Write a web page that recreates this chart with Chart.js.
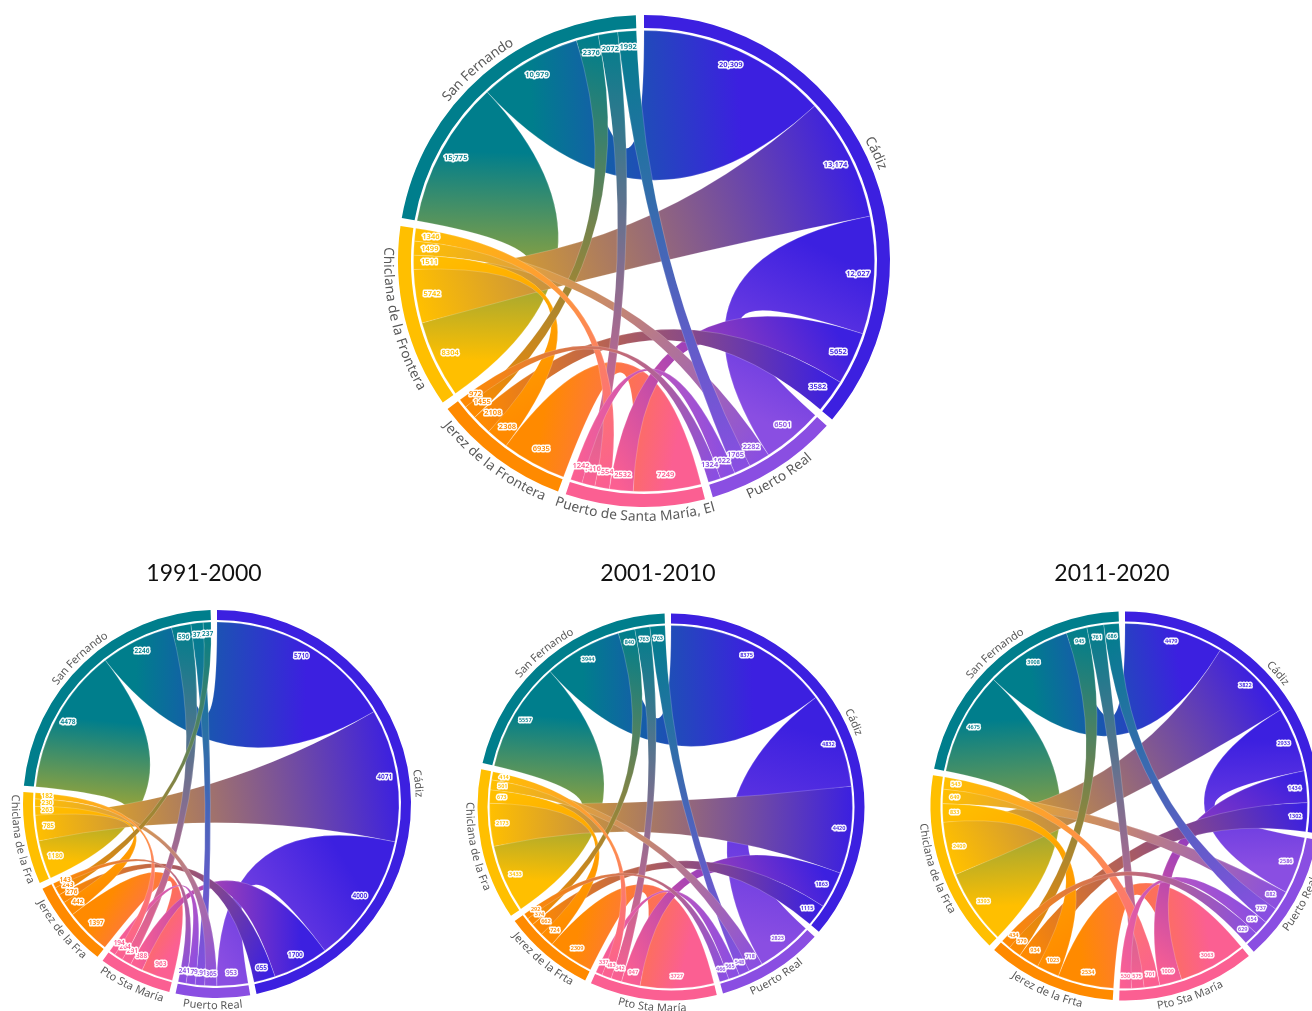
<!DOCTYPE html>
<html>
<head>
<meta charset="utf-8">
<title>Flujos entre municipios</title>
<script src="https://cdn.jsdelivr.net/npm/chart.js@4"></script>
<style>
  html, body { margin: 0; background: #fff; width: 1312px; height: 1011px; overflow: hidden; }
  canvas { position: absolute; }
  #chartMain { left: 344px; top: -39px; }
  #chart1991 { left: -7px; top: 580px; }
  #chart2001 { left: 447px; top: 583px; }
  #chart2011 { left: 901px; top: 582px; }
  .title { position: absolute; top: 558px; width: 200px; text-align: center; font: 23px Lato, sans-serif; color: #111; }
</style>
</head>
<body>
<canvas id="chartMain" width="600" height="600"></canvas>
<canvas id="chart1991" width="448" height="448"></canvas>
<canvas id="chart2001" width="448" height="448"></canvas>
<canvas id="chart2011" width="448" height="448"></canvas>
<div class="title" style="left:104px">1991-2000</div>
<div class="title" style="left:558px">2001-2010</div>
<div class="title" style="left:1012px">2011-2020</div>
<script>
// --- DATA ---
// Group order (clockwise from the top): 0 Cádiz, 1 Puerto Real, 2 Pto Sta María, 3 Jerez, 4 Chiclana, 5 San Fernando
const groupColors = ['#3c20e0', '#8a4ee2', '#fb5f92', '#ff8a00', '#ffbf00', '#007e8c'];

const namesMain = ['Cádiz', 'Puerto Real', 'Puerto de Santa María, El', 'Jerez de la Frontera', 'Chiclana de la Frontera', 'San Fernando'];
const names1991 = ['Cádiz', 'Puerto Real', 'Pto Sta María', 'Jerez de la Fra', 'Chiclana de la Fra', 'San Fernando'];
const names2001 = ['Cádiz', 'Puerto Real', 'Pto Sta María', 'Jerez de la Frta', 'Chiclana de la Fra', 'San Fernando'];
const names2011 = ['Cádiz', 'Puerto Real', 'Pto Sta María', 'Jerez de la Frta', 'Chiclana de la Frta', 'San Fernando'];

// values: each group's segments clockwise; partners: the group each segment flows to
const valuesMain = [
  [20309, 13174, 12627, 5652, 3582],
  [6501, 2282, 1765, 1622, 1324],
  [7249, 2532, 1554, 1416, 1242],
  [6935, 2368, 2108, 1455, 972],
  [8304, 5742, 1511, 1499, 1346],
  [15775, 10979, 2376, 2072, 1992]
];
const partnersMain = [[5, 4, 1, 2, 3], [0, 4, 5, 2, 3], [3, 0, 4, 5, 1], [2, 4, 0, 5, 1], [5, 0, 3, 1, 2], [4, 0, 3, 2, 1]];

const values1991 = [
  [5710, 4071, 4000, 1700, 655],
  [953, 365, 291, 279, 241],
  [963, 388, 291, 264, 194],
  [1397, 442, 276, 243, 143],
  [1180, 785, 263, 230, 182],
  [4478, 2246, 596, 372, 237]
];
const partners1991 = [[5, 4, 1, 2, 3], [0, 4, 5, 2, 3], [3, 0, 5, 4, 1], [2, 4, 0, 5, 1], [5, 0, 3, 1, 2], [4, 0, 2, 1, 3]];

const values2001 = [
  [8375, 4832, 4420, 1863, 1115],
  [2823, 718, 548, 565, 466],
  [3727, 947, 542, 483, 337],
  [2309, 724, 662, 374, 292],
  [3433, 2173, 673, 501, 414],
  [5557, 3944, 840, 763, 763]
];
const partners2001 = [[5, 1, 4, 2, 3], [0, 4, 5, 2, 3], [3, 0, 5, 4, 1], [2, 4, 0, 5, 1], [5, 0, 3, 1, 2], [4, 0, 3, 2, 1]];

const values2011 = [
  [4479, 3822, 2933, 1434, 1302],
  [2586, 882, 737, 654, 629],
  [3063, 1009, 701, 575, 530],
  [2534, 1023, 934, 579, 434],
  [3393, 2409, 833, 649, 543],
  [4675, 3908, 945, 761, 686]
];
const partners2011 = [[5, 4, 1, 2, 3], [0, 4, 5, 2, 3], [3, 0, 4, 5, 1], [2, 4, 0, 5, 1], [5, 0, 3, 1, 2], [4, 0, 3, 2, 1]];

// --- HELPERS ---
const GAP_DEGREES = 1.9;

function sum(list) {
  return list.reduce((a, b) => a + b, 0);
}

function formatValue(v) {
  return v >= 10000 ? v.toLocaleString('en-US') : String(v);
}

// Text that follows the ring, flipped on the lower half so it stays readable
function drawCurvedText(ctx, text, cx, cy, radius, angle, font) {
  ctx.save();
  ctx.font = font;
  ctx.fillStyle = '#5a5a5a';
  ctx.textAlign = 'center';
  ctx.textBaseline = 'middle';
  const flip = Math.sin(angle) > 0;
  const widths = [...text].map(c => ctx.measureText(c).width);
  const total = sum(widths);
  let run = -total / 2;
  [...text].forEach((c, i) => {
    const step = (run + widths[i] / 2) / radius;
    const a = flip ? angle - step : angle + step;
    ctx.save();
    ctx.translate(cx + radius * Math.cos(a), cy + radius * Math.sin(a));
    ctx.rotate(flip ? a - Math.PI / 2 : a + Math.PI / 2);
    ctx.fillText(c, 0, 0);
    ctx.restore();
    run += widths[i];
  });
  ctx.restore();
}

// Ribbons, value labels and group names, positioned from the doughnut's own arcs
const chordPlugin = {
  id: 'chord',
  afterDatasetsDraw(chart, args, opts) {
    const ctx = chart.ctx;
    const arcs = chart.getDatasetMeta(0).data;
    const cx = arcs[0].x;
    const cy = arcs[0].y;
    const r = arcs[0].innerRadius - opts.ribbonGap;

    // angle span of every segment
    const spans = opts.values.map((list, g) => {
      const arc = arcs[g * 2];
      const scale = (arc.endAngle - arc.startAngle) / sum(list);
      let a = arc.startAngle;
      return list.map(v => {
        const span = [a, a + v * scale];
        a += v * scale;
        return span;
      });
    });

    // one ribbon per pair of groups
    const links = [];
    opts.partners.forEach((list, g) => {
      list.forEach((p, i) => {
        if (p > g) {
          const j = opts.partners[p].indexOf(g);
          links.push({ g, p, a: spans[g][i], b: spans[p][j], size: opts.values[g][i] + opts.values[p][j] });
        }
      });
    });
    links.sort((x, y) => y.size - x.size);

    links.forEach(link => {
      const midA = (link.a[0] + link.a[1]) / 2;
      const midB = (link.b[0] + link.b[1]) / 2;
      const grad = ctx.createLinearGradient(
        cx + r * Math.cos(midA), cy + r * Math.sin(midA),
        cx + r * Math.cos(midB), cy + r * Math.sin(midB)
      );
      grad.addColorStop(0, groupColors[link.g]);
      grad.addColorStop(1, groupColors[link.p]);
      ctx.beginPath();
      ctx.arc(cx, cy, r, link.a[0], link.a[1]);
      ctx.quadraticCurveTo(cx, cy, cx + r * Math.cos(link.b[0]), cy + r * Math.sin(link.b[0]));
      ctx.arc(cx, cy, r, link.b[0], link.b[1]);
      ctx.quadraticCurveTo(cx, cy, cx + r * Math.cos(link.a[0]), cy + r * Math.sin(link.a[0]));
      ctx.closePath();
      ctx.fillStyle = grad;
      ctx.fill();
      ctx.strokeStyle = 'rgba(255,255,255,0.3)';
      ctx.lineWidth = 0.6;
      ctx.stroke();
    });

    // value labels with a white halo
    ctx.font = opts.valueFont;
    ctx.textAlign = 'center';
    ctx.textBaseline = 'middle';
    ctx.lineJoin = 'round';
    opts.values.forEach((list, g) => {
      list.forEach((v, i) => {
        const a = (spans[g][i][0] + spans[g][i][1]) / 2;
        const x = cx + (r - opts.valueInset) * Math.cos(a);
        const y = cy + (r - opts.valueInset) * Math.sin(a);
        ctx.strokeStyle = 'rgba(255,255,255,0.95)';
        ctx.lineWidth = 3;
        ctx.strokeText(formatValue(v), x, y);
        ctx.fillStyle = groupColors[g];
        ctx.fillText(formatValue(v), x, y);
      });
    });

    // group names
    opts.names.forEach((name, g) => {
      const arc = arcs[g * 2];
      const mid = (arc.startAngle + arc.endAngle) / 2;
      drawCurvedText(ctx, name, cx, cy, arc.outerRadius + opts.nameOffset, mid, opts.nameFont);
    });
  }
};

function createChord(id, names, values, partners, sizes) {
  const totals = values.map(sum);
  const gap = sum(totals) * GAP_DEGREES / (360 - GAP_DEGREES * totals.length);
  return new Chart(document.getElementById(id), {
    type: 'doughnut',
    data: {
      labels: names.flatMap(n => [n, '']),
      datasets: [{
        data: totals.flatMap(t => [t, gap]),
        backgroundColor: groupColors.flatMap(c => [c, 'rgba(0,0,0,0)']),
        borderWidth: 0
      }]
    },
    options: {
      responsive: false,
      animation: false,
      events: [],
      radius: sizes.radius,
      cutout: ((sizes.radius - sizes.ring) / sizes.radius * 100) + '%',
      plugins: {
        legend: { display: false },
        tooltip: { enabled: false },
        chord: {
          names, values, partners,
          ribbonGap: sizes.ribbonGap,
          valueFont: sizes.valueFont,
          valueInset: sizes.valueInset,
          nameFont: sizes.nameFont,
          nameOffset: sizes.nameOffset
        }
      }
    },
    plugins: [chordPlugin]
  });
}

// --- CHARTS ---
document.addEventListener('DOMContentLoaded', function () {
  createChord('chartMain', namesMain, valuesMain, partnersMain,
    { radius: 246, ring: 13, ribbonGap: 2.5, valueFont: '600 7.5px "Noto Sans"', valueInset: 16, nameFont: '13.7px "Noto Sans"', nameOffset: 10 });
  createChord('chart1991', names1991, values1991, partners1991,
    { radius: 194, ring: 10, ribbonGap: 2, valueFont: '600 6.5px "Noto Sans"', valueInset: 12, nameFont: '11px "Noto Sans"', nameOffset: 8 });
  createChord('chart2001', names2001, values2001, partners2001,
    { radius: 193.5, ring: 10, ribbonGap: 2, valueFont: '600 5.5px "Noto Sans"', valueInset: 12, nameFont: '11px "Noto Sans"', nameOffset: 8 });
  createChord('chart2011', names2011, values2011, partners2011,
    { radius: 194.5, ring: 10, ribbonGap: 2, valueFont: '600 5.5px "Noto Sans"', valueInset: 12, nameFont: '11px "Noto Sans"', nameOffset: 8 });
});
</script>
</body>
</html>
